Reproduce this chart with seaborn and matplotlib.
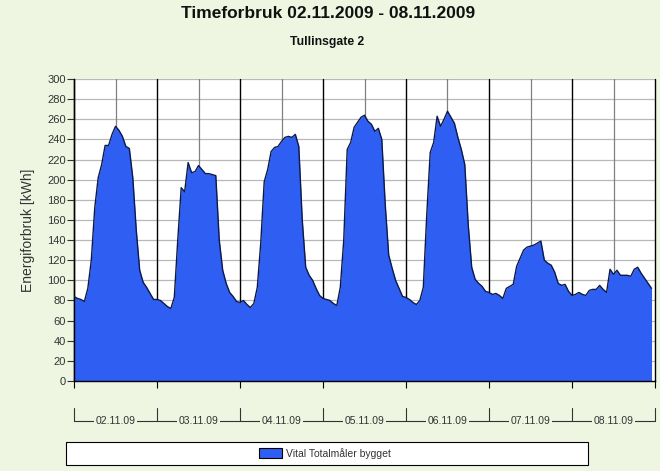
import numpy as np
import pandas as pd
import matplotlib
matplotlib.use("Agg")
import matplotlib.pyplot as plt
import matplotlib.transforms as mtransforms
from matplotlib.patches import Rectangle
import seaborn as sns

# ---- data (hourly energy use, kWh) ----
days = ["02.11.09", "03.11.09", "04.11.09", "05.11.09", "06.11.09", "07.11.09", "08.11.09"]
day_02 = [84, 82, 81, 79, 92, 120, 172, 202, 215, 234, 234, 245, 253, 249, 243, 233, 231, 202, 150, 110, 98, 93, 87, 81]
day_03 = [81, 80, 77, 74, 72, 83, 140, 192, 188, 217, 207, 208, 214, 210, 206, 206, 205, 204, 140, 110, 97, 88, 84, 79]
day_04 = [78, 80, 76, 73, 77, 93, 137, 198, 210, 228, 232, 233, 238, 242, 243, 242, 245, 233, 160, 113, 105, 100, 92, 85]
day_05 = [82, 81, 80, 77, 75, 93, 140, 230, 237, 252, 257, 262, 264, 258, 255, 248, 251, 240, 175, 125, 112, 100, 92, 84]
day_06 = [83, 81, 78, 76, 80, 93, 165, 227, 237, 263, 253, 260, 268, 262, 256, 242, 230, 215, 155, 113, 101, 97, 94, 89]
day_07 = [88, 86, 87, 85, 82, 92, 94, 96, 114, 122, 130, 133, 134, 135, 137, 139, 120, 117, 115, 108, 97, 95, 96, 89]
day_08 = [85, 86, 88, 86, 85, 90, 91, 91, 95, 91, 88, 111, 106, 110, 105, 105, 105, 104, 111, 113, 107, 102, 97, 92]
series_name = "Vital Totalmåler bygget"
title = "Timeforbruk 02.11.2009 - 08.11.2009"
subtitle = "Tullinsgate 2"
ylabel = "Energiforbruk [kWh]"
y_ticks = list(range(0, 301, 20))

values = day_02 + day_03 + day_04 + day_05 + day_06 + day_07 + day_08
df = pd.DataFrame({"hour": np.arange(len(values)), "kwh": values})

sns.set_theme(style="white")
plt.rcParams["font.family"] = ["Liberation Sans", "DejaVu Sans"]

BG = "#EEF6E2"
FILL = "#2E5EF2"
W, H = 660, 471

fig = plt.figure(figsize=(W / 100, H / 100), dpi=100, facecolor=BG)
ax = fig.add_axes([74 / W, 1 - 381 / H, 581 / W, 302 / H])
ax.set_facecolor("white")

n_hours = 24 * len(days)
ax.set_xlim(0, n_hours)
ax.set_ylim(0, 300)

# grid
for y in y_ticks[1:]:
    ax.axhline(y, color="#B8B8B8", lw=0.9, zorder=1)
for d in range(len(days)):
    ax.axvline(24 * d + 12, color="#808080", lw=0.9, zorder=1)
for d in range(len(days) + 1):
    ax.axvline(24 * d, color="black", lw=1.0, zorder=1, clip_on=False)

# area
area = ax.fill_between(df["hour"], df["kwh"], 0, color=FILL, lw=0, zorder=2)
sns.lineplot(data=df, x="hour", y="kwh", ax=ax, color="#0B1A4A", lw=1.0, zorder=3, legend=False)
if ax.get_legend() is not None:
    ax.get_legend().remove()

ax.set_xlabel("")
ax.set_ylabel(ylabel, fontsize=10, color="#333333", labelpad=9)
ax.set_yticks(y_ticks)
ax.set_xticks([24 * d for d in range(len(days) + 1)])
ax.set_xticklabels([])
ax.tick_params(axis="y", direction="out", length=5, width=0.8, color="#333333",
               labelsize=8, labelcolor="#333333", pad=1, left=True)
ax.tick_params(axis="x", direction="out", length=5, width=0.8, color="black", bottom=True)
for s in ["top", "right"]:
    ax.spines[s].set_visible(False)
for s in ["left", "bottom"]:
    ax.spines[s].set_color("black")
    ax.spines[s].set_linewidth(1.0)

# date bracket row under the axis
trans = mtransforms.blended_transform_factory(ax.transData, fig.transFigure)
y_line = 1 - 421 / H
y_tick_top = 1 - 408 / H
ax.plot([0, n_hours], [y_line, y_line], transform=trans, clip_on=False, color="#333333", lw=0.8)
for d in range(len(days) + 1):
    ax.plot([24 * d, 24 * d], [y_line, y_tick_top], transform=trans, clip_on=False,
            color="#333333", lw=0.8)
for d, lab in enumerate(days):
    ax.text(24 * d + 12, y_line, lab, transform=trans, ha="center", va="center",
            fontsize=7.5, color="#333333",
            bbox=dict(facecolor=BG, edgecolor="none", pad=1.2))

# titles
fig.text(328 / W, 1 - 13 / H, title, ha="center", va="center", fontsize=12.5,
         fontweight="bold", color="#111111")
fig.text(327 / W, 1 - 42 / H, subtitle, ha="center", va="center", fontsize=8.8,
         fontweight="bold", color="#111111")

# legend box
fig.patches.append(Rectangle((66 / W, 1 - 465 / H), (588 - 66) / W, 23 / H,
                             transform=fig.transFigure, facecolor="white",
                             edgecolor="black", lw=0.8, zorder=0))
leg = fig.legend([area], [series_name], loc="center", bbox_to_anchor=(325 / W, 1 - 453.5 / H),
                 frameon=False, fontsize=7.5, handlelength=2.2, handleheight=1.1,
                 handletextpad=0.4, labelcolor="#333333")
for h in leg.legend_handles:
    h.set_edgecolor("black")
    h.set_linewidth(0.8)

fig.savefig("out.png", dpi=100, facecolor=BG)
